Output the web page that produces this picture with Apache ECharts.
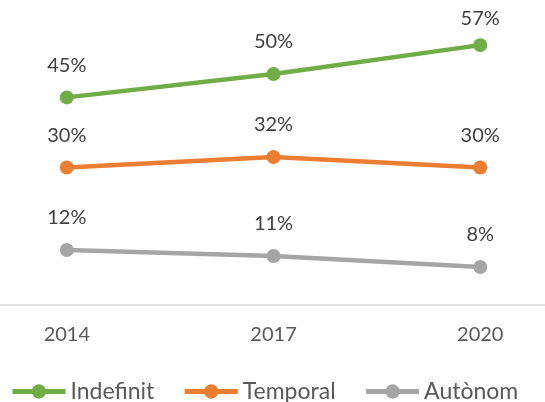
<!DOCTYPE html>
<html>
<head>
<meta charset="utf-8">
<script src="https://cdn.jsdelivr.net/npm/echarts@6/dist/echarts.min.js"></script>
<style>
html, body {margin: 0; padding: 0; background: #fff;}
#chart {width: 545px; height: 402px;}
</style>
</head>
<body>
<div id="chart"></div>
<script>
var years = [2014, 2017, 2020];
var indefinit = [45.3, 50.4, 56.7];
var temporal = [30, 32.3, 30];
var autonom = [12, 10.7, 8.3];

var myChart = echarts.init(document.getElementById('chart'));

function makeSeries(name, values, color) {
    return {
        name: name,
        type: 'line',
        data: values.map(function (v, i) {
            var item = {value: [years[i], v]};
            // Excel pushes the top label a bit closer to its point
            if (v > 55) item.label = {distance: 10};
            return item;
        }),
        symbol: 'circle',
        symbolSize: 14,
        lineStyle: {width: 4.5, color: color},
        itemStyle: {color: color},
        label: {
            show: true,
            position: 'top',
            distance: 15,
            color: '#404040',
            fontFamily: 'Lato',
            fontSize: 20,
            formatter: function (p) {
                return Math.round(p.value[1]) + '%';
            }
        }
    };
}

var option = {
    animation: false,
    grid: {left: 0, right: 0, top: 30, bottom: 97},
    legend: {
        left: 10,
        top: 380,
        padding: 0,
        itemWidth: 53,
        itemHeight: 18,
        itemGap: 28,
        lineStyle: {width: 5},
        textStyle: {fontFamily: 'Lato', fontSize: 23, color: '#595959'},
        data: ['Indefinit', 'Temporal', 'Autònom']
    },
    xAxis: {
        type: 'value',
        min: 2013.03,
        max: 2020.94,
        splitLine: {show: false},
        axisLine: {show: true, lineStyle: {color: '#d9d9d9', width: 1.5}},
        axisTick: {show: false},
        axisLabel: {
            customValues: years,
            margin: 20,
            fontFamily: 'Lato',
            fontSize: 20,
            color: '#595959',
            formatter: function (v) {
                return String(v);
            }
        }
    },
    yAxis: {
        type: 'value',
        min: 0,
        max: 60,
        show: false,
        splitLine: {show: false}
    },
    series: [
        makeSeries('Indefinit', indefinit, '#70AD47'),
        makeSeries('Temporal', temporal, '#ED7D31'),
        makeSeries('Autònom', autonom, '#A5A5A5')
    ]
};

myChart.setOption(option);
</script>
</body>
</html>
